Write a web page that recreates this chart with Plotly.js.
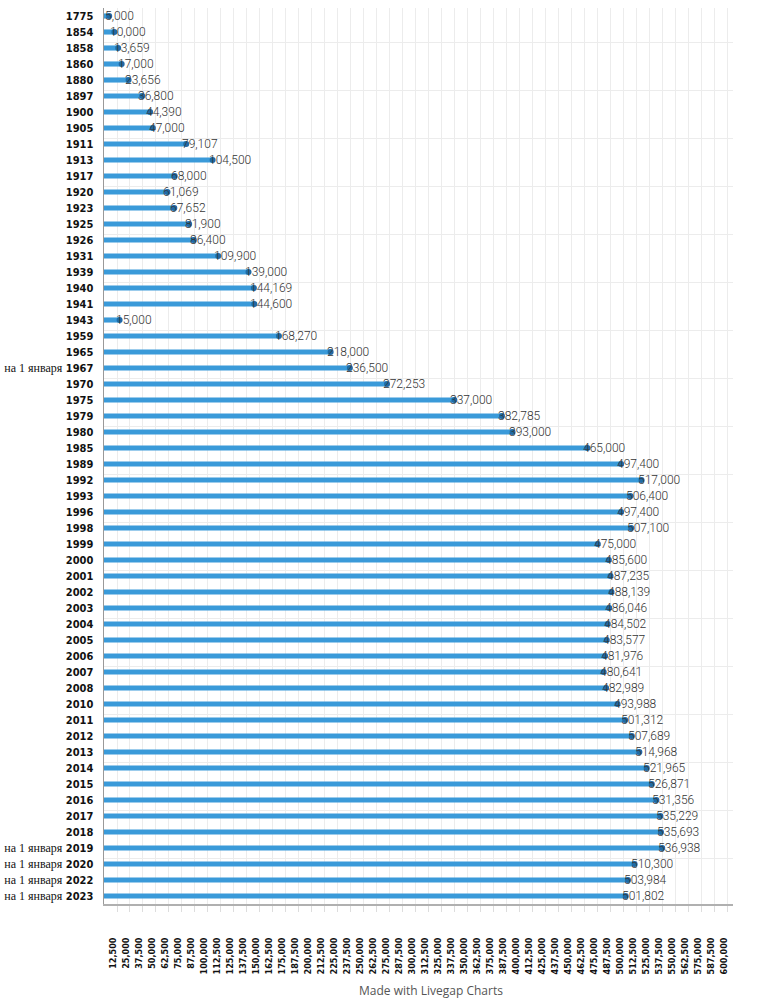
<!DOCTYPE html>
<html>
<head>
<meta charset="utf-8">
<script src="https://cdn.plot.ly/plotly-3.0.1.min.js"></script>
<style>
  html, body { margin: 0; padding: 0; background: #ffffff; }
  #chart { width: 775px; height: 1000px; }
</style>
</head>
<body>
<div id="chart"></div>
<script>
const categories = [
  "1775", "1854", "1858", "1860", "1880", "1897", "1900", "1905", "1911", "1913",
  "1917", "1920", "1923", "1925", "1926", "1931", "1939", "1940", "1941", "1943",
  "1959", "1965", "на 1 января 1967", "1970", "1975", "1979", "1980", "1985", "1989", "1992",
  "1993", "1996", "1998", "1999", "2000", "2001", "2002", "2003", "2004", "2005",
  "2006", "2007", "2008", "2010", "2011", "2012", "2013", "2014", "2015", "2016",
  "2017", "2018", "на 1 января 2019", "на 1 января 2020", "на 1 января 2022", "на 1 января 2023"
];

const population = [
  5000, 10000, 13659, 17000, 23656, 36800, 44390, 47000, 79107, 104500,
  68000, 61069, 67652, 81900, 86400, 109900, 139000, 144169, 144600, 15000,
  168270, 218000, 236500, 272253, 337000, 382785, 393000, 465000, 497400, 517000,
  506400, 497400, 507100, 475000, 485600, 487235, 488139, 486046, 484502, 483577,
  481976, 480641, 482989, 493988, 501312, 507689, 514968, 521965, 526871, 531356,
  535229, 535693, 536938, 510300, 503984, 501802
];

const xTickValues = [
  12500, 25000, 37500, 50000, 62500, 75000, 87500, 100000, 112500, 125000,
  137500, 150000, 162500, 175000, 187500, 200000, 212500, 225000, 237500, 250000,
  262500, 275000, 287500, 300000, 312500, 325000, 337500, 350000, 362500, 375000,
  387500, 400000, 412500, 425000, 437500, 450000, 462500, 475000, 487500, 500000,
  512500, 525000, 537500, 550000, 562500, 575000, 587500, 600000
];

const prefix = "на 1 января";
const condensed = '"Liberation Sans Narrow", "DejaVu Sans Condensed", "Roboto Condensed", "Liberation Sans", sans-serif';

// Category tick labels: the Russian prefix is drawn in a serif face, as in the reference
const tickText = categories.map(c =>
  c.startsWith(prefix)
    ? '<span style="font-family:\'Liberation Serif\',\'DejaVu Serif\',serif;font-weight:normal;font-size:12px">' + prefix + '</span>' + c.slice(prefix.length)
    : c
);

const xTickText = xTickValues.map(v => v.toLocaleString('en-US'));
const fmt = v => v.toLocaleString('en-US');

const barTrace = {
  type: 'bar',
  orientation: 'h',
  x: population,
  y: categories,
  width: 0.32,
  marker: { color: '#3a9ad9', line: { width: 0 } },
  hoverinfo: 'x+y',
  showlegend: false
};

const endDots = {
  type: 'scatter',
  mode: 'markers',
  x: population,
  y: categories,
  marker: { size: 6, color: '#1f6aa5' },
  hoverinfo: 'skip',
  showlegend: false,
  cliponaxis: false
};

// invisible trace so that the helper axis for horizontal grid bands is drawn
const gridHelper = {
  type: 'scatter',
  mode: 'markers',
  x: [null],
  y: [null],
  yaxis: 'y2',
  hoverinfo: 'skip',
  showlegend: false
};

const annotations = categories.map((c, i) => ({
  x: population[i],
  y: i,
  xref: 'x',
  yref: 'y',
  text: fmt(population[i]),
  showarrow: false,
  xanchor: 'left',
  yanchor: 'middle',
  xshift: -6,
  font: { family: 'Roboto', size: 12, weight: 300, color: '#333333' }
}));

annotations.push({
  xref: 'paper',
  yref: 'paper',
  x: 0.52,
  y: -0.097,
  xanchor: 'center',
  yanchor: 'middle',
  showarrow: false,
  text: 'Made with Livegap Charts',
  font: { family: 'Open Sans', size: 12, color: '#555555' }
});

const layout = {
  width: 775,
  height: 1000,
  margin: { l: 104, r: 42, t: 8, b: 96, pad: 0 },
  paper_bgcolor: '#ffffff',
  plot_bgcolor: '#ffffff',
  showlegend: false,
  xaxis: {
    range: [0, 605000],
    autorange: false,
    tickmode: 'array',
    tickvals: xTickValues,
    ticktext: xTickText,
    tickangle: -90,
    ticks: 'outside',
    ticklen: 6,
    tickcolor: '#dddddd',
    ticklabelstandoff: 22,
    ticklabelshift: -4,
    tickfont: { family: condensed, size: 9, weight: 700, color: '#111111' },
    showgrid: true,
    gridcolor: '#ececec',
    gridwidth: 1,
    zeroline: false,
    showline: true,
    linecolor: '#b0b0b0',
    linewidth: 2,
    fixedrange: true
  },
  yaxis: {
    type: 'category',
    categoryorder: 'array',
    categoryarray: categories,
    range: [55.5, -0.5],
    autorange: false,
    tickmode: 'array',
    tickvals: categories,
    ticktext: tickText,
    ticks: '',
    ticklabelstandoff: 7,
    tickfont: { family: condensed, size: 11, weight: 700, color: '#111111' },
    showgrid: false,
    zeroline: false,
    showline: true,
    linecolor: '#999999',
    linewidth: 1.5,
    fixedrange: true
  },
  yaxis2: {
    overlaying: 'y',
    side: 'left',
    range: [56, 0],
    autorange: false,
    tickmode: 'linear',
    tick0: 2.125,
    dtick: 3,
    showticklabels: false,
    ticks: '',
    showgrid: true,
    gridcolor: '#ececec',
    gridwidth: 1,
    zeroline: false,
    showline: false,
    fixedrange: true
  },
  annotations: annotations
};

Plotly.newPlot('chart', [barTrace, endDots, gridHelper], layout, { displayModeBar: false, staticPlot: true });
</script>
</body>
</html>
